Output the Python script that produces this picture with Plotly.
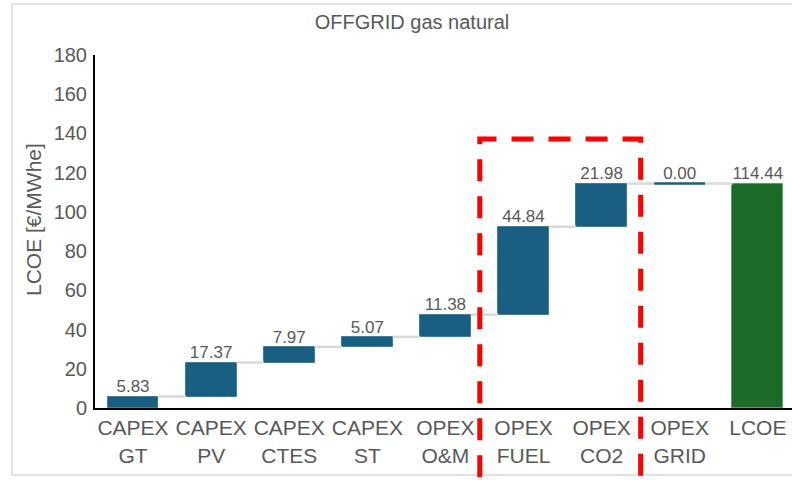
import plotly.graph_objects as go

categories = ["CAPEX<br>GT", "CAPEX<br>PV", "CAPEX<br>CTES", "CAPEX<br>ST", "OPEX<br>O&M",
              "OPEX<br>FUEL", "OPEX<br>CO2", "OPEX<br>GRID", "LCOE"]
values = [5.83, 17.37, 7.97, 5.07, 11.38, 44.84, 21.98, 0.00, 114.44]
is_total = [False] * 8 + [True]
y_ticks = [0, 20, 40, 60, 80, 100, 120, 140, 160, 180]

BLUE = "#185f81"
GREEN = "#1d6b28"
GREY_TXT = "#595959"
BW = 0.65

xs = list(range(len(categories)))
bases, tops = [], []
run = 0.0
for v, t in zip(values, is_total):
    if t:
        bases.append(0.0)
        tops.append(v)
        run = v
    else:
        bases.append(run)
        run += v
        tops.append(run)

fig = go.Figure()

# connectors
for i in range(len(values) - 1):
    fig.add_trace(go.Scatter(x=[xs[i] + BW / 2, xs[i + 1] - BW / 2], y=[tops[i], tops[i]],
                             mode="lines", line=dict(color="#d9d9d9", width=2.5),
                             hoverinfo="skip", showlegend=False))

colors = [GREEN if t else BLUE for t in is_total]
edges = ["#5f9a63" if t else "#3f7d9b" for t in is_total]
fig.add_trace(go.Bar(x=xs, y=[tp - b for tp, b in zip(tops, bases)], base=bases, width=BW,
                     marker=dict(color=colors, line=dict(color=edges, width=1)),
                     showlegend=False))

# zero-height bars drawn as a line
for i, v in enumerate(values):
    if v == 0:
        fig.add_trace(go.Scatter(x=[xs[i] - BW / 2, xs[i] + BW / 2], y=[tops[i], tops[i]],
                                 mode="lines", line=dict(color=BLUE, width=2.5),
                                 hoverinfo="skip", showlegend=False))

fig.add_trace(go.Scatter(x=xs, y=tops, mode="text", text=[f"{v:.2f}" for v in values],
                         textposition="top center",
                         textfont=dict(size=17, color=GREY_TXT, family="Liberation Sans, Arial"),
                         hoverinfo="skip", showlegend=False, cliponaxis=False))

# red dashed box around fuel/CO2
fig.add_shape(type="rect", xref="x", yref="paper", x0=4.44, x1=6.5,
              y0=-(500 - 408) / 353, y1=(408 - 139) / 353,
              line=dict(color="#ff0000", width=5, dash="22px,15px"), layer="above")

# outer frame
fig.add_shape(type="rect", xref="paper", yref="paper", x0=-83 / 697, x1=1.05,
              y0=-(475 - 408) / 353, y1=(408 - 4) / 353,
              line=dict(color="#d9d9d9", width=1.5), layer="below")

fig.add_annotation(text="LCOE [€/MWhe]", textangle=-90, xref="paper", yref="paper",
                   x=(33 - 95) / 697, y=(408 - 219) / 353, showarrow=False,
                   xanchor="center", yanchor="middle",
                   font=dict(size=21, color=GREY_TXT, family="Liberation Sans, Arial"))

fig.update_layout(
    width=792, height=480,
    margin=dict(l=95, r=0, t=55, b=72, autoexpand=False),
    paper_bgcolor="white", plot_bgcolor="white",
    font=dict(family="Liberation Sans, Arial", color=GREY_TXT),
    title=dict(text="OFFGRID gas natural", x=412 / 792, xanchor="center",
               y=1 - 22 / 480, yanchor="middle", automargin=False,
               font=dict(size=20, color=GREY_TXT, family="Liberation Sans, Arial")),
    bargap=0,
    xaxis=dict(tickmode="array", tickvals=xs, ticktext=categories, range=[-0.487, 8.438],
               showgrid=False, zeroline=False, showline=True, linecolor="black", linewidth=2,
               ticks="", tickfont=dict(size=21, color=GREY_TXT), fixedrange=True,
               automargin=False),
    yaxis=dict(range=[0, 180], tickvals=y_ticks, showgrid=False, zeroline=False,
               showline=True, linecolor="black", linewidth=2, ticks="",
               tickfont=dict(size=20, color=GREY_TXT), ticklabelstandoff=2, fixedrange=True,
               automargin=False),
)

fig.write_html("out.html", config={"displayModeBar": False},
               post_script="document.body.style.margin='0';document.body.style.overflow='hidden';")
